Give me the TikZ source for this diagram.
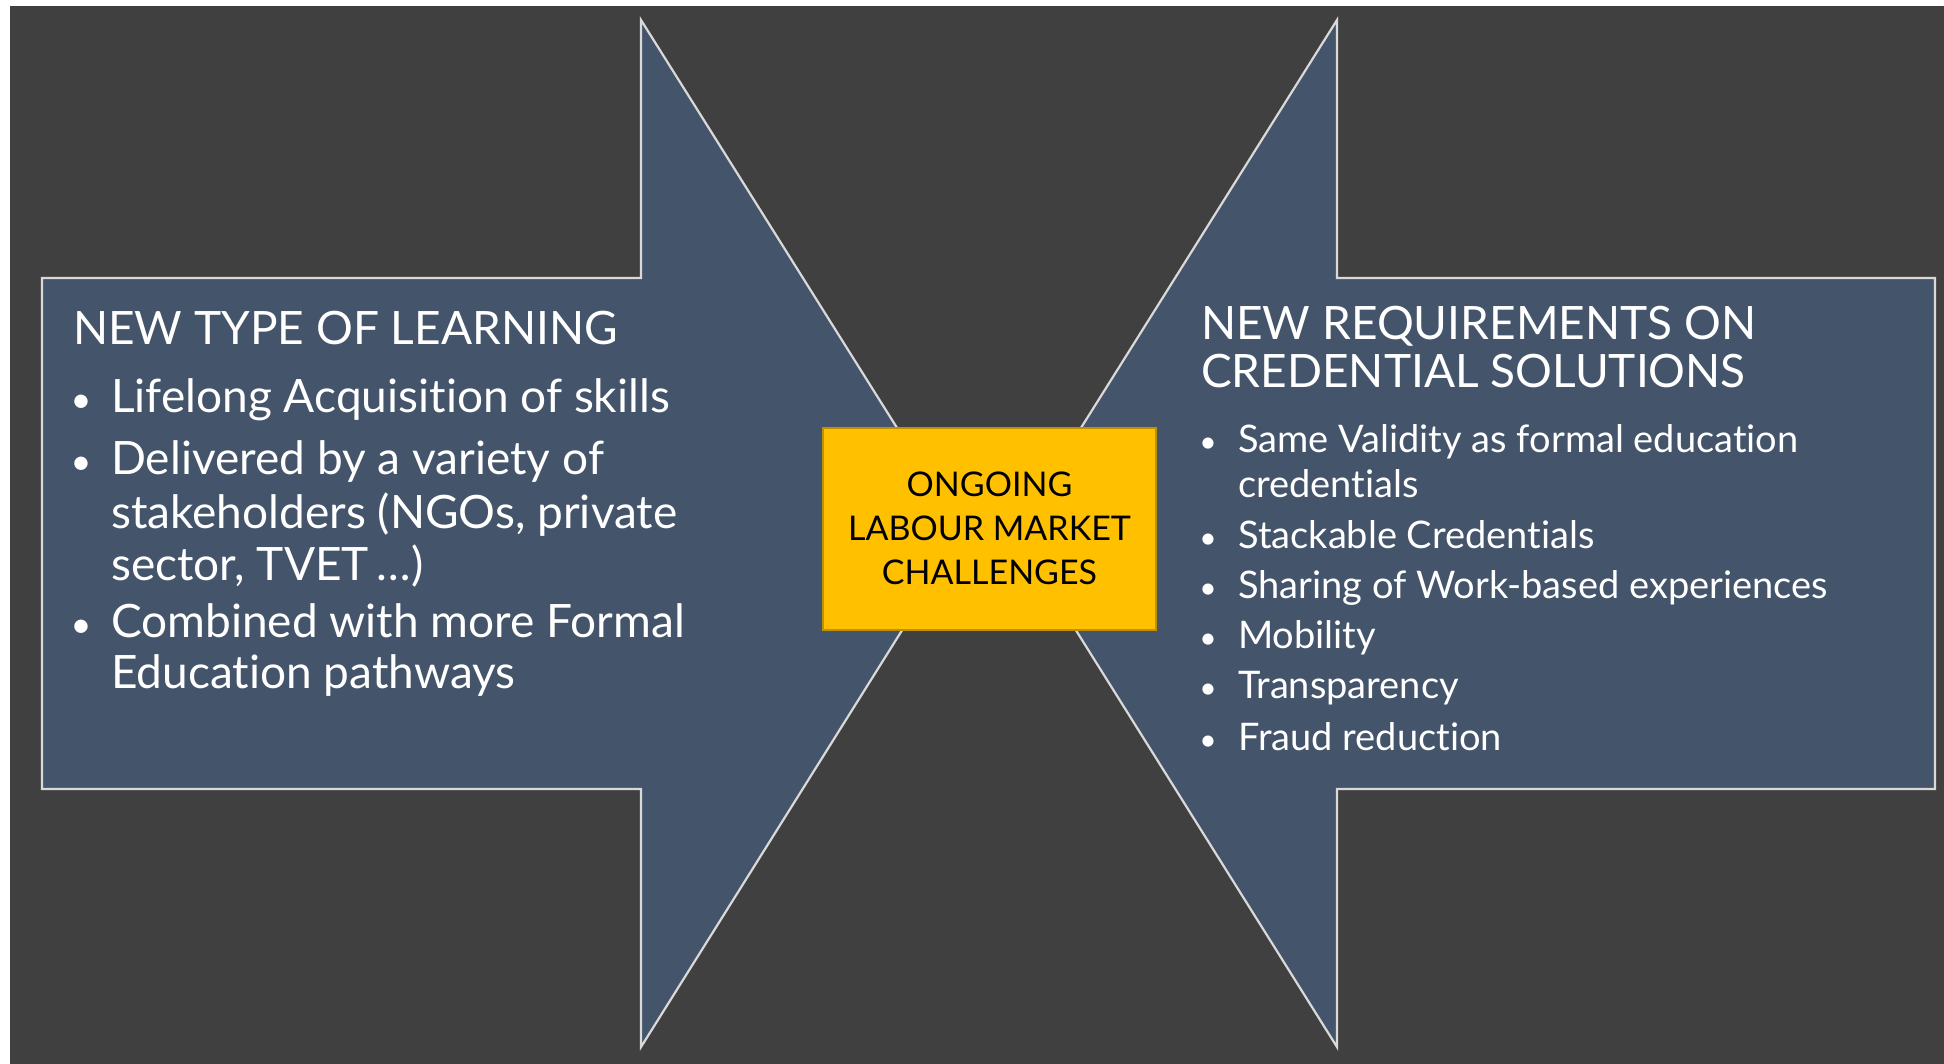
\documentclass[tikz,border=0pt]{standalone}
\usepackage{fontspec}
\setmainfont{Lato}[Ligatures={NoCommon,NoContextual},Contextuals=NoAlternate]
\definecolor{bgdark}{HTML}{404040}
\definecolor{arrowfill}{HTML}{44546A}
\definecolor{edgegray}{HTML}{D9D9D9}
\definecolor{gold}{HTML}{FFC000}
\definecolor{goldedge}{HTML}{BF9000}
\begin{document}
\begin{tikzpicture}[x=1pt,y=-1pt,
  arrowshape/.style={fill=arrowfill, draw=edgegray, line width=2.2pt, line join=miter},
  txt/.style={anchor=base west, inner sep=0pt, text=white},
  bul/.style={anchor=base, inner sep=0pt, text=white},
  ltitle/.style={txt, font=\fontsize{46}{46}\selectfont},
  lbody/.style={txt, font=\fontsize{46}{46}\selectfont},
  lbul/.style={bul, font=\fontsize{36}{36}\selectfont},
  rtitle/.style={txt, font=\fontsize{46}{46}\selectfont},
  rbody/.style={txt, font=\fontsize{38}{38}\selectfont},
  rbul/.style={bul, font=\fontsize{30}{30}\selectfont},
  ctext/.style={anchor=base, inner sep=0pt, text=black, font=\fontsize{34}{34}\selectfont}
]
\useasboundingbox (0,0) rectangle (1944,1064);
\fill[white] (0,0) rectangle (1944,1064);
\fill[bgdark] (10,6) rectangle (1944,1064);

% left arrow
\draw[arrowshape] (42,278) -- (641,278) -- (641,20) -- (963,533) -- (641,1047) -- (641,789) -- (42,789) -- cycle;
% right arrow
\draw[arrowshape] (1935,278) -- (1337,278) -- (1337,20) -- (1015,533) -- (1337,1047) -- (1337,789) -- (1935,789) -- cycle;

% center box
\node[draw=goldedge, fill=gold, line width=1.5pt, minimum width=333pt, minimum height=202pt, inner sep=0pt] (center) at (989.5,529) {};
\node[ctext] (c1) at (989.5,496) {ONGOING};
\node[ctext] (c2) at (989.5,540) {LABOUR MARKET};
\node[ctext] (c3) at (989.5,584) {CHALLENGES};

% left texts
\node[ltitle] (lt) at (73,345) {NEW TYPE OF LEARNING};
\node[lbul] (lb1) at (81,413) {\textbullet};
\node[lbody] (l1) at (111,413) {Lifelong Acquisition of skills};
\node[lbul] (lb2) at (81,475) {\textbullet};
\node[lbody] (l2a) at (111,475) {Delivered by a variety of};
\node[lbody] (l2b) at (111,528) {stakeholders (NGOs, private};
\node[lbody] (l2c) at (111,580) {sector, TVET\,\dots)};
\node[lbul] (lb3) at (81,637) {\textbullet};
\node[lbody] (l3a) at (111,637) {Combined with more Formal};
\node[lbody] (l3b) at (111,688) {Education pathways};

% right texts
\node[rtitle] (rt1) at (1201,340) {NEW REQUIREMENTS ON};
\node[rtitle] (rt2) at (1201,388) {CREDENTIAL SOLUTIONS};
\node[rbul] (rb1) at (1208,453) {\textbullet};
\node[rbody] (r1a) at (1238,453) {Same Validity as formal education};
\node[rbody] (r1b) at (1238,497) {credentials};
\node[rbul] (rb2) at (1208,548) {\textbullet};
\node[rbody] (r2) at (1238,548) {Stackable Credentials};
\node[rbul] (rb3) at (1208,598) {\textbullet};
\node[rbody] (r3) at (1238,598) {Sharing of Work-based experiences};
\node[rbul] (rb4) at (1208,648) {\textbullet};
\node[rbody] (r4) at (1238,648) {Mobility};
\node[rbul] (rb5) at (1208,698) {\textbullet};
\node[rbody] (r5) at (1238,698) {Transparency};
\node[rbul] (rb6) at (1208,750) {\textbullet};
\node[rbody] (r6) at (1238,750) {Fraud reduction};
\end{tikzpicture}
\end{document}
